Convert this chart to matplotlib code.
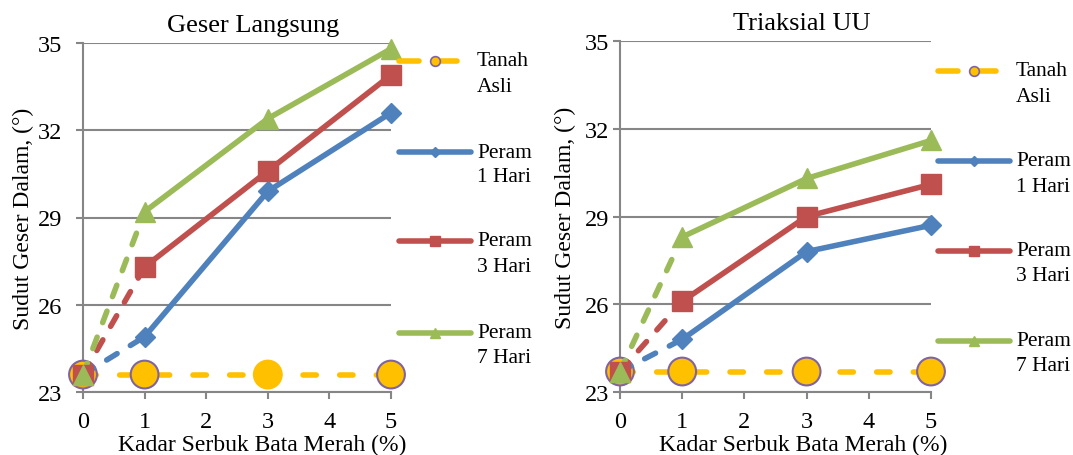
#python3

#import libraries
import numpy as np
import matplotlib
matplotlib.use('Agg')
import matplotlib.pyplot as plt
from matplotlib.lines import Line2D

plt.rcParams['font.family'] = ['Liberation Serif', 'DejaVu Serif']

#data: kadar serbuk bata merah (%) vs sudut geser dalam (deg)
kadar = [0, 1, 3, 5]
labels = ['Tanah\nAsli', 'Peram\n1 Hari', 'Peram\n3 Hari', 'Peram\n7 Hari']

#geser langsung
gl_tanah = [23.6, 23.6, 23.6, 23.6]
gl_peram1 = [23.6, 24.9, 29.9, 32.6]
gl_peram3 = [23.6, 27.3, 30.6, 33.9]
gl_peram7 = [23.6, 29.2, 32.4, 34.8]

#triaksial uu
uu_tanah = [23.7, 23.7, 23.7, 23.7]
uu_peram1 = [23.7, 24.8, 27.8, 28.7]
uu_peram3 = [23.7, 26.1, 29.0, 30.1]
uu_peram7 = [23.7, 28.3, 30.3, 31.6]

yticks = [23, 26, 29, 32, 35]
xticks = [0, 1, 2, 3, 4, 5]

#colours
c_tanah = '#FFC000'
c_edge = '#8064A2'
c_blue = '#4F81BD'
c_red = '#C0504D'
c_green = '#9BBB59'
c_grid = '#868686'

W, H = 1073, 456
fig = plt.figure(figsize=(W/100, H/100), dpi=100)


def fx(x):
    return x / W


def fy(y):
    return 1 - y / H


def draw_panel(x0, x1, ytop, ybot, title, tanah, peram1, peram3, peram7,
               tanah_edges, ypad, title_xy, xlab_x, ylab_x):
    ax = fig.add_axes([fx(x0), fy(ybot), (x1-x0)/W, (ybot-ytop)/H])
    ax.set_xlim(0, 5)
    ax.set_ylim(23, 35)

    #tanah asli
    ax.plot(kadar, tanah, color=c_tanah, lw=4, dashes=(2.4, 4.2),
            dash_capstyle='round', zorder=2, clip_on=False)
    ax.scatter(kadar, tanah, s=400, color=c_tanah, edgecolors=tanah_edges,
               linewidths=1.5, zorder=3, clip_on=False)

    #peram series: dashed 0->1, solid after
    for vals, col, mk, ms in [(peram1, c_blue, 'D', 10),
                              (peram3, c_red, 's', 14),
                              (peram7, c_green, '^', 14)]:
        ax.plot(kadar[:2], vals[:2], color=col, lw=4, dashes=(2.2, 2.8),
                dash_capstyle='round', zorder=4, clip_on=False)
        ax.plot(kadar[1:], vals[1:], color=col, lw=4, solid_capstyle='round',
                zorder=4, clip_on=False)
        ax.plot(kadar, vals, ls='none', marker=mk, ms=ms, color=col,
                zorder=5, clip_on=False)

    ax.set_xticks(xticks)
    ax.set_yticks(yticks)
    ax.grid(axis='y', color=c_grid, lw=1.5)
    ax.set_axisbelow(True)
    for s in ['top', 'right']:
        ax.spines[s].set_visible(False)
    for s in ['left', 'bottom']:
        ax.spines[s].set_color(c_grid)
        ax.spines[s].set_linewidth(1.5)
    ax.tick_params(axis='both', direction='out', length=5, width=1.5,
                   color=c_grid, labelsize=17.5)
    ax.tick_params(axis='y', pad=ypad)
    ax.tick_params(axis='x', pad=9)

    h = ybot - ytop
    w = x1 - x0
    ax.text((title_xy[0]-x0)/w, (ybot-title_xy[1])/h, title, fontsize=19,
            ha='center', va='center', transform=ax.transAxes)
    ax.set_xlabel('Kadar Serbuk Bata Merah (%)', fontsize=17)
    ax.xaxis.label.set_va('center')
    ax.xaxis.set_label_coords((xlab_x-x0)/w, -(445-ybot)/h)
    ax.set_ylabel('Sudut Geser Dalam, (°)', fontsize=17)
    ax.yaxis.label.set_va('center')
    ax.yaxis.set_label_coords((ylab_x-x0)/w, 0.5)
    return ax


def draw_legend(x0, x1, ys):
    #legend built by hand so the handle sits on the first text line
    xm = (x0 + x1) / 2
    entries = [(c_tanah, 'o', 7), (c_blue, 'D', 5), (c_red, 's', 7), (c_green, '^', 7)]
    for (col, mk, ms), y, lab in zip(entries, ys, labels):
        if mk == 'o':
            xc = x0 + 36
            fig.add_artist(Line2D([fx(x0), fx(x0+20)], [fy(y), fy(y)], color=col,
                                  lw=4, solid_capstyle='round'))
            fig.add_artist(Line2D([fx(xc), fx(x0+58)], [fy(y), fy(y)], color=col,
                                  lw=4, solid_capstyle='round'))
            fig.add_artist(Line2D([fx(xc)], [fy(y)], ls='none', marker='o', ms=ms,
                                  color=col, mec=c_edge, mew=1.2))
        else:
            fig.add_artist(Line2D([fx(x0), fx(x1)], [fy(y), fy(y)], color=col,
                                  lw=4, solid_capstyle='round'))
            fig.add_artist(Line2D([fx(xm)], [fy(y)], ls='none', marker=mk, ms=ms,
                                  color=col))
        for k, line in enumerate(lab.split('\n')):
            fig.text(fx(x1 + 6), fy(y + 25*k), line, fontsize=15.5,
                     va='center', ha='left')


draw_panel(83, 391, 44, 393, 'Geser Langsung',
           gl_tanah, gl_peram1, gl_peram3, gl_peram7,
           [c_edge, c_edge, c_tanah, c_edge], ypad=10,
           title_xy=(253, 26), xlab_x=262, ylab_x=23)
draw_legend(399, 471, [62, 153, 242, 334])

draw_panel(620, 931, 42, 393, 'Triaksial UU',
           uu_tanah, uu_peram1, uu_peram3, uu_peram7,
           [c_edge, c_edge, c_edge, c_edge], ypad=3,
           title_xy=(802, 24), xlab_x=803, ylab_x=565)
draw_legend(938, 1010, [72, 162, 252, 342])

plt.savefig('out.png', dpi=100)
